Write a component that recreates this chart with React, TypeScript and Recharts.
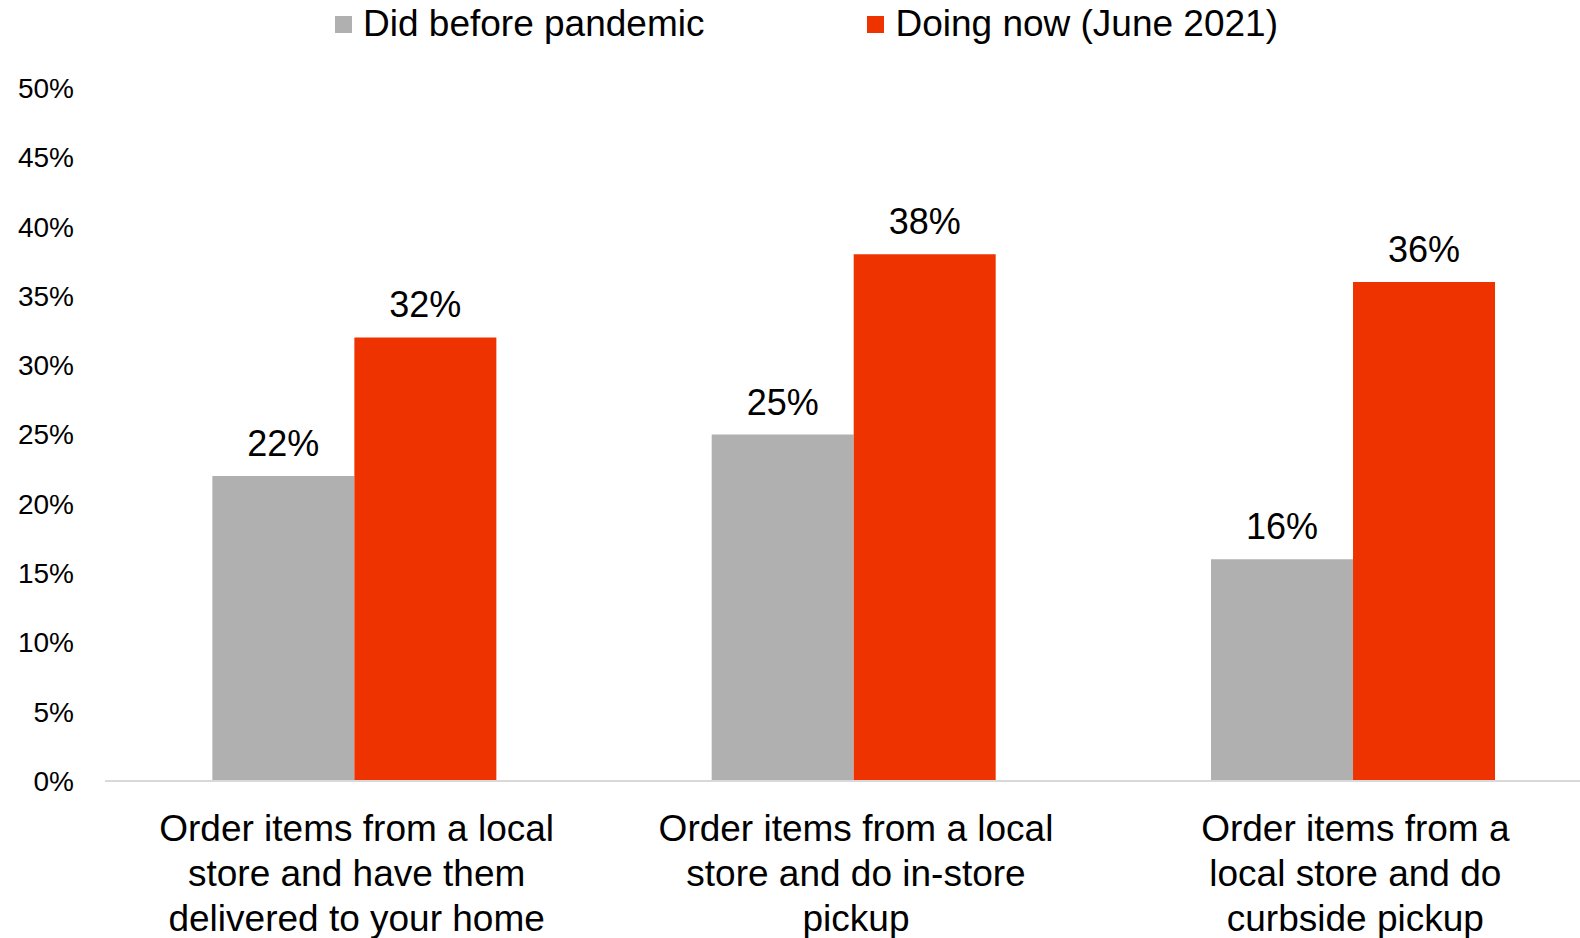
import { BarChart, Bar, XAxis, YAxis, Legend, LabelList } from "recharts";

const categories = [
  ["Order items from a local", "store and have them", "delivered to your home"],
  ["Order items from a local", "store and do in-store", "pickup"],
  ["Order items from a", "local store and do", "curbside pickup"],
];
const beforePandemic = [22, 25, 16];
const doingNow = [32, 38, 36];
const yTicks = [0, 5, 10, 15, 20, 25, 30, 35, 40, 45, 50];

const SERIES = [
  { key: "before", name: "Did before pandemic", color: "#B0B0B0" },
  { key: "now", name: "Doing now (June 2021)", color: "#EE3300" },
];

const data = categories.map((lines, i) => ({
  name: lines.join(" "),
  lines,
  before: beforePandemic[i],
  now: doingNow[i],
}));

const FONT = "'Liberation Sans', Arial, sans-serif";

const CategoryTick = (props: any) => {
  const { x, y, index } = props;
  const lines: string[] = categories[index] || [];
  return (
    <g>
      {lines.map((line, i) => (
        <text
          key={i}
          x={x + 2}
          y={y + 60 + i * 45}
          textAnchor="middle"
          fontSize={37}
          fontFamily={FONT}
          fill="#000"
        >
          {line}
        </text>
      ))}
    </g>
  );
};

const ValueLabel = (props: any) => {
  const { x, y, width, value } = props;
  return (
    <text
      x={x + width / 2}
      y={y - 20}
      textAnchor="middle"
      fontSize={36}
      fontFamily={FONT}
      fill="#000"
    >
      {value}%
    </text>
  );
};

const LegendContent = () => (
  <div
    style={{
      display: "flex",
      alignItems: "center",
      height: 48,
      paddingLeft: 335,
      fontFamily: FONT,
      fontSize: 37,
      color: "#000",
    }}
  >
    {SERIES.map((s, i) => (
      <div
        key={s.key}
        style={{ display: "flex", alignItems: "center", marginLeft: i === 0 ? 0 : 163 }}
      >
        <span style={{ width: 17, height: 17, background: s.color, marginRight: 11, display: "inline-block" }} />
        <span>{s.name}</span>
      </div>
    ))}
  </div>
);

export default function App() {
  return (
    <div style={{ position: "absolute", left: 0, top: 0, width: 1580, height: 938, overflow: "hidden", background: "#fff" }}>
      <BarChart
        width={1604}
        height={938}
        data={data}
        margin={{ top: 40, right: 1, bottom: 0, left: 0 }}
        barCategoryGap="21.5%"
        barGap={0}
      >
        <Legend
          verticalAlign="top"
          content={<LegendContent />}
          wrapperStyle={{ top: 0, left: 0, width: 1604 }}
        />
        <XAxis
          dataKey="name"
          height={157}
          tickLine={false}
          tickSize={0}
          tickMargin={0}
          axisLine={{ stroke: "#D9D9D9", strokeWidth: 2 }}
          tick={<CategoryTick />}
          interval={0}
        />
        <YAxis
          width={105}
          domain={[0, 50]}
          ticks={yTicks}
          axisLine={false}
          tickLine={false}
          tickSize={0}
          tickMargin={31}
          tickFormatter={(v: number) => `${v}%`}
          tick={{ fontSize: 28, fill: "#000", fontFamily: FONT }}
        />
        {SERIES.map((s) => (
          <Bar key={s.key} dataKey={s.key} name={s.name} fill={s.color} isAnimationActive={false}>
            <LabelList dataKey={s.key} content={<ValueLabel />} />
          </Bar>
        ))}
      </BarChart>
    </div>
  );
}
